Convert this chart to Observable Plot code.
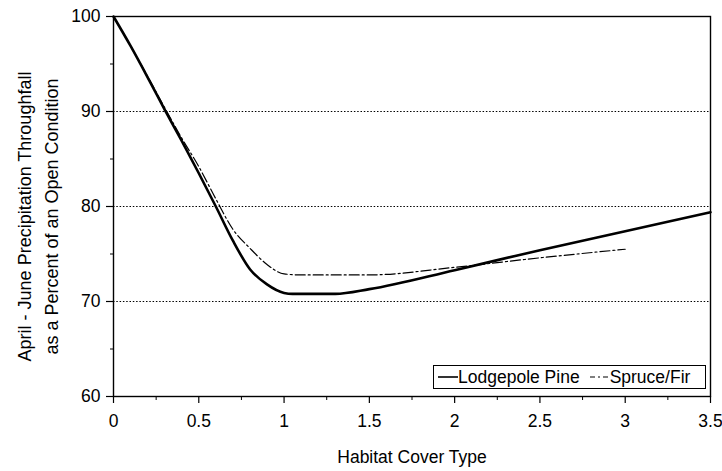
<!DOCTYPE html>
<html>
<head>
<meta charset="utf-8">
<script src="https://cdn.jsdelivr.net/npm/d3@7"></script>
<script src="https://cdn.jsdelivr.net/npm/@observablehq/plot@0.6"></script>
<style>
  html, body { margin: 0; padding: 0; background: #fff; }
  #wrap { position: relative; width: 722px; height: 471px; font-family: "Liberation Sans", Arial, sans-serif; }
  #legend { position: absolute; left: 433px; top: 365px; width: 267px; height: 22px;
    border: 1.5px solid #000; background: #fff; font-size: 17.5px; line-height: 22px;
    white-space: nowrap; display: flex; align-items: center; padding-left: 4px; box-sizing: content-box; }
  #legend svg { display: inline-block; vertical-align: middle; }
</style>
</head>
<body>
<div id="wrap"></div>
<script>
// ---- data ----
const seriesNames = ["Lodgepole Pine", "Spruce/Fir"];

const lodgepoleX = [0, 0.1, 0.2, 0.3, 0.4, 0.5, 0.6, 0.7, 0.8, 0.9, 1.0, 1.05, 1.3, 1.5, 2.0, 2.5, 3.0, 3.5];
const lodgepoleY = [100, 96.9, 93.6, 90.2, 86.9, 83.5, 80.0, 76.4, 73.4, 71.8, 70.9, 70.8, 70.8, 71.3, 73.3, 75.4, 77.4, 79.4];

const spruceX = [0, 0.1, 0.2, 0.3, 0.4, 0.5, 0.6, 0.7, 0.8, 0.9, 1.0, 1.1, 1.5, 2.0, 2.5, 3.0];
const spruceY = [100, 96.9, 93.7, 90.4, 87.2, 84.2, 80.8, 77.6, 75.6, 73.9, 72.9, 72.8, 72.8, 73.6, 74.6, 75.5];

const xMajorTicks = [0, 0.5, 1, 1.5, 2, 2.5, 3, 3.5];
const xMinorTicks = [0.25, 0.75, 1.25, 1.75, 2.25, 2.75, 3.25];
const yMajorTicks = [60, 70, 80, 90, 100];
const yMinorTicks = [65, 75, 85, 95];
const gridY = [70, 80, 90];

const xLabel = "Habitat Cover Type";
const yLabelLines = ["April - June Precipitation Throughfall", "as a Percent of an Open Condition"];

// ---- build ----
const lodgepole = lodgepoleX.map((x, i) => ({x, y: lodgepoleY[i]}));
const spruce = spruceX.map((x, i) => ({x, y: spruceY[i]}));

const FONT = "'Liberation Sans', Arial, sans-serif";
const fmt = d => String(d);

const chart = Plot.plot({
  width: 722,
  height: 471,
  marginLeft: 113,
  marginRight: 12,
  marginTop: 16,
  marginBottom: 75,
  style: { fontFamily: FONT, fontSize: "17px", color: "#000", background: "#fff" },
  x: { domain: [0, 3.5] },
  y: { domain: [60, 100] },
  marks: [
    Plot.ruleY(gridY, { stroke: "#000", strokeWidth: 1, strokeDasharray: "1.5,1.8" }),
    Plot.axisX(xMajorTicks, { tickSize: 7, tickPadding: 11, fontSize: 17.5, tickFormat: fmt, label: null, strokeWidth: 1.2 }),
    Plot.axisX(xMinorTicks, { tickSize: 4, text: null, label: null, strokeWidth: 1 }),
    Plot.axisY(yMajorTicks, { tickSize: 7, tickPadding: 6, fontSize: 17.5, tickFormat: fmt, label: null, strokeWidth: 1.2 }),
    Plot.axisY(yMinorTicks, { tickSize: 3, text: null, label: null, strokeWidth: 1 }),
    Plot.line(spruce, { x: "x", y: "y", stroke: "#000", strokeWidth: 1.2, strokeDasharray: "10,3,2,3", curve: "monotone-x" }),
    Plot.line(lodgepole, { x: "x", y: "y", stroke: "#000", strokeWidth: 2.6, curve: "monotone-x" }),
    Plot.frame({ stroke: "#000", strokeWidth: 1.4 }),
    Plot.text([xLabel], { frameAnchor: "bottom", dy: 61, lineAnchor: "middle", fontSize: 17.5, fill: "#000" }),
    Plot.text([yLabelLines.join("\n")], { frameAnchor: "left", dx: -78, dy: 10, rotate: -90, lineAnchor: "middle", textAnchor: "middle", lineHeight: 1.5, fontSize: 18, fill: "#000" })
  ]
});

const wrap = document.getElementById("wrap");
wrap.appendChild(chart);

// legend (HTML, overlaid inside plot area)
const legend = document.createElement("div");
legend.id = "legend";
const sample = (dash, w) => `<svg width="20" height="10"><line x1="0" x2="20" y1="5" y2="5" stroke="#000" stroke-width="${w}" ${dash ? `stroke-dasharray="${dash}"` : ""}/></svg>`;
legend.innerHTML = `${sample(null, 1.6)}<span>${seriesNames[0]}</span><span style="display:inline-block;width:10px"></span>${sample("5,3,2,3", 1.2)}<span>${seriesNames[1]}</span>`;
wrap.appendChild(legend);
</script>
</body>
</html>
